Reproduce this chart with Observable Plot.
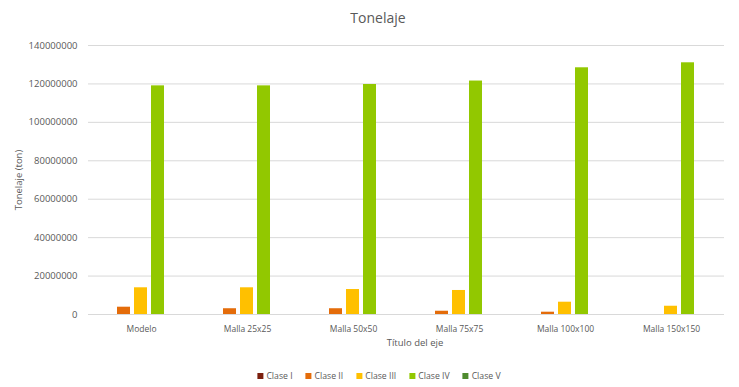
<!DOCTYPE html>
<html>
<head>
<meta charset="utf-8">
<script src="https://cdn.jsdelivr.net/npm/d3@7"></script>
<script src="https://cdn.jsdelivr.net/npm/@observablehq/plot@0.6"></script>
<style>
  html, body { margin: 0; padding: 0; background: #fff; }
  #wrap { position: relative; width: 739px; height: 387px; font-family: "Open Sans", "Liberation Sans", sans-serif; color: #595959; overflow: hidden; }
  #title { position: absolute; top: 8px; left: 378px; transform: translateX(-50%); font-size: 14px; color: #595959; white-space: nowrap; }
  #ytitle { position: absolute; left: 18px; top: 180px; transform: translate(-50%, -50%) rotate(-90deg); font-size: 9.5px; white-space: nowrap; }
  #xtitle { position: absolute; top: 336px; left: 415px; transform: translateX(-50%); font-size: 9.5px; white-space: nowrap; }
  #legend { position: absolute; top: 370px; left: 379px; transform: translateX(-50%); display: flex; gap: 13px; font-size: 8.7px; white-space: nowrap; }
  #legend span.sw { display: inline-block; width: 6px; height: 6px; margin-right: 3px; vertical-align: middle; position: relative; top: -1px; }
  #plot { position: absolute; top: 0; left: 0; }
</style>
</head>
<body>
<div id="wrap">
  <div id="plot"></div>
  <div id="title">Tonelaje</div>
  <div id="ytitle">Tonelaje (ton)</div>
  <div id="xtitle">Título del eje</div>
  <div id="legend"></div>
</div>
<script>
const categories = ["Modelo", "Malla 25x25", "Malla 50x50", "Malla 75x75", "Malla 100x100", "Malla 150x150"];
const classes = ["Clase I", "Clase II", "Clase III", "Clase IV", "Clase V"];
const colors = ["#7B1F0E", "#E46C0A", "#FFC000", "#92C800", "#4E8B2E"];
const claseI   = [0, 0, 0, 0, 0, 0];
const claseII  = [3800000, 3000000, 3000000, 1700000, 1200000, 0];
const claseIII = [13900000, 13900000, 13000000, 12500000, 6400000, 4300000];
const claseIV  = [119000000, 119000000, 119700000, 121500000, 128400000, 131000000];
const claseV   = [0, 0, 0, 0, 0, 0];
const yTicks = [0, 20000000, 40000000, 60000000, 80000000, 100000000, 120000000, 140000000];

const series = [claseI, claseII, claseIII, claseIV, claseV];
const data = [];
categories.forEach((c, i) => {
  classes.forEach((k, j) => data.push({category: c, clase: k, value: series[j][i]}));
});

const chart = Plot.plot({
  width: 739,
  height: 387,
  marginTop: 45,
  marginBottom: 73,
  marginLeft: 88,
  marginRight: 15,
  style: {fontFamily: "'Open Sans', 'Liberation Sans', sans-serif", color: "#595959", background: "#fff"},
  fx: {domain: categories, padding: 0, axis: null},
  x: {domain: classes, paddingInner: 0.235, paddingOuter: 0.735, axis: null},
  y: {domain: [0, 140000000], axis: null},
  color: {domain: classes, range: colors},
  marks: [
    Plot.gridY(yTicks, {stroke: "#d9d9d9", strokeOpacity: 1}),
    Plot.axisY(yTicks, {tickSize: 0, tickPadding: 11, tickFormat: d => String(d), fontSize: 9.5, fill: "#595959", label: null}),
    Plot.barY(data, {fx: "category", x: "clase", y: "value", fill: "clase"}),
    Plot.axisFx({anchor: "bottom", tickSize: 0, tickPadding: 11, fontSize: 8.5, fill: "#595959", label: null})
  ]
});
document.getElementById("plot").appendChild(chart);

const legend = document.getElementById("legend");
classes.forEach((k, j) => {
  const item = document.createElement("div");
  const sw = document.createElement("span");
  sw.className = "sw";
  sw.style.background = colors[j];
  item.appendChild(sw);
  item.appendChild(document.createTextNode(k));
  legend.appendChild(item);
});
</script>
</body>
</html>
